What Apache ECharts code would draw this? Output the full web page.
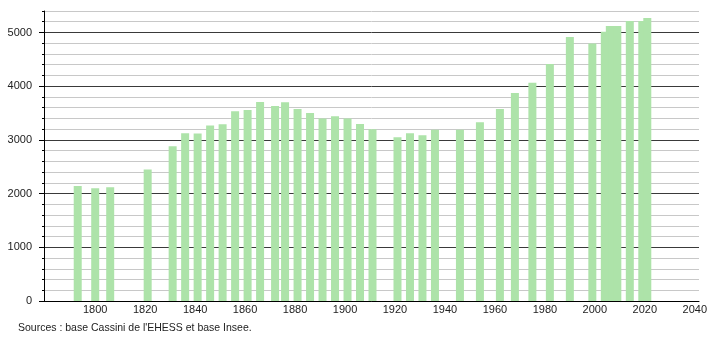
<!DOCTYPE html>
<html>
<head>
<meta charset="utf-8">
<script src="https://cdn.jsdelivr.net/npm/echarts@6/dist/echarts.min.js"></script>
<style>
html,body{margin:0;padding:0;background:#fff;}
#chart{width:710px;height:340px;}
</style>
</head>
<body>
<div id="chart"></div>
<script>
// Census years
var years = [1793,1800,1806,1821,1831,1836,1841,1846,1851,1856,1861,1866,1872,1876,1881,1886,1891,1896,1901,1906,1911,1921,1926,1931,1936,1946,1954,1962,1968,1975,1982,1990,1999,2004,2006,2007,2008,2009,2014,2019,2021];
// Population values
var population = [2140,2100,2120,2450,2880,3125,3120,3270,3290,3535,3555,3705,3630,3700,3575,3500,3400,3440,3400,3295,3200,3050,3125,3088,3190,3190,3330,3573,3871,4063,4412,4916,4795,5012,5121,5121,5121,5121,5214,5214,5270];
// Tick labels
var xTickLabels = [1800,1820,1840,1860,1880,1900,1920,1940,1960,1980,2000,2020,2040];
var yTickLabels = [0,1000,2000,3000,4000,5000];
var yMinorSteps = [0,200,400,600,800,1000,1200,1400,1600,1800,2000,2200,2400,2600,2800,3000,3200,3400,3600,3800,4000,4200,4400,4600,4800,5000,5200,5400];
var sourceText = "Sources : base Cassini de l'EHESS et base Insee.";

var chart = echarts.init(document.getElementById('chart'), null, {renderer:'canvas'});
var pts = years.map(function(y,i){ return [y, population[i]]; });
var gridColors = yMinorSteps.map(function(v){ return v % 1000 === 0 ? '#3a3a3a' : '#c8c8c8'; });

chart.setOption({
  animation:false,
  backgroundColor:'#ffffff',
  textStyle:{fontFamily:'"Liberation Sans", Arial, sans-serif'},
  grid:{left:44, right:9, top:11, bottom:39, containLabel:false},
  xAxis:{
    type:'value', min:1779.5, max:2041.7,
    axisLine:{show:true, lineStyle:{color:'#000', width:1}},
    axisTick:{show:false},
    splitLine:{show:false},
    axisLabel:{customValues:xTickLabels, color:'#222', fontSize:11, margin:3,
      formatter:function(v){ return String(v); }}
  },
  yAxis:[{
    type:'value', min:0, max:5400, interval:200,
    axisLine:{show:true, lineStyle:{color:'#000', width:1}},
    axisTick:{show:true, length:2, lineStyle:{color:'#000'}},
    splitLine:{show:true, lineStyle:{color:gridColors, width:1}},
    axisLabel:{customValues:yTickLabels, color:'#222', fontSize:11, margin:12,
      formatter:function(v){ return String(v); }}
  },{
    type:'value', min:0, max:5400, position:'left',
    axisLine:{show:false},
    axisTick:{show:true, length:5, customValues:yTickLabels, lineStyle:{color:'#000'}},
    splitLine:{show:false},
    axisLabel:{show:false}
  }],
  graphic:[{
    type:'text', left:18, top:323,
    style:{text:sourceText, fontSize:10.5, fill:'#222', fontFamily:'"Liberation Sans", Arial, sans-serif'}
  }],
  series:[{
    type:'bar', xAxisIndex:0, yAxisIndex:0,
    data:pts, barWidth:8,
    itemStyle:{color:'#ade3a9'},
    z:3
  }]
});
</script>
</body>
</html>
